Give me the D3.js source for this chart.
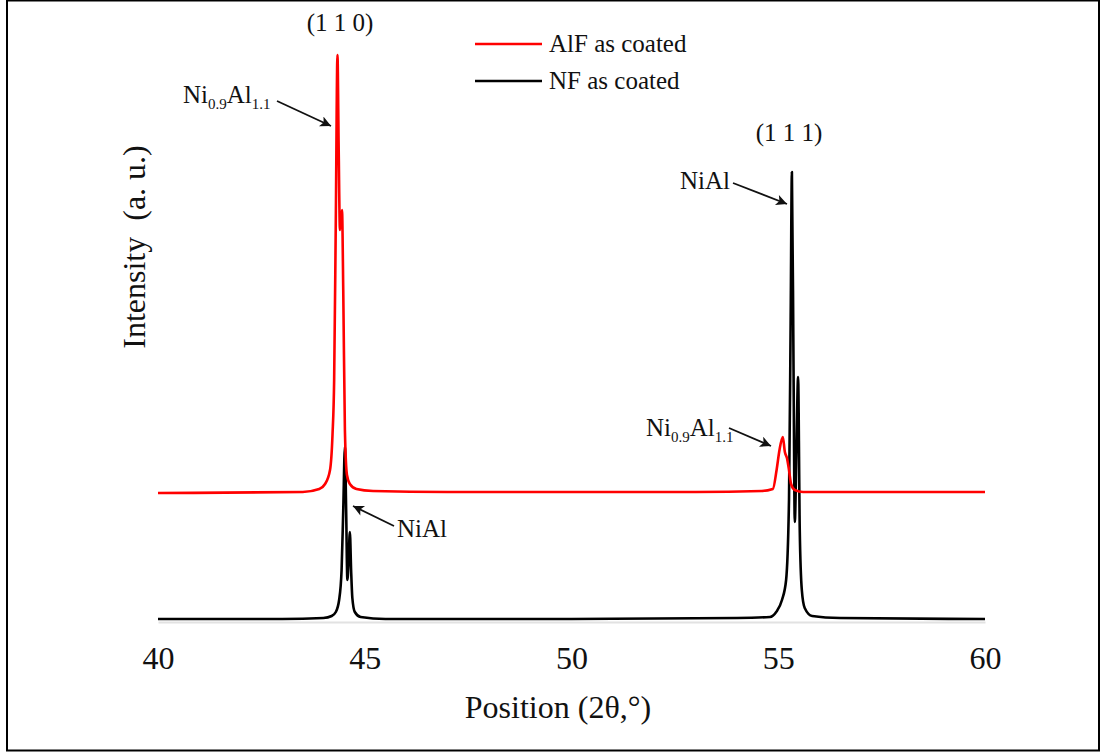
<!DOCTYPE html>
<html>
<head>
<meta charset="utf-8">
<script src="https://cdn.jsdelivr.net/npm/d3@7"></script>
<style>
  body { margin: 0; background: #fff; }
  svg text { font-family: "Liberation Serif", "Times New Roman", serif; }
</style>
</head>
<body>
<div id="chart"></div>
<script>
// 2theta positions and intensities (a.u.)
var alfTheta = [40, 43.5, 43.9, 44.04, 44.16, 44.22, 44.26, 44.30, 44.34, 44.37, 44.40, 44.45, 44.48, 44.52, 44.57, 44.64, 44.8, 45.2, 47, 50, 53, 54.6, 54.87, 54.96, 55.03, 55.11, 55.16, 55.21, 55.26, 55.31, 55.4, 55.6, 56, 58, 60];
var alfIntensity = [127, 128, 131, 136, 150, 185, 240, 400, 565, 470, 390, 410, 330, 190, 145, 136, 131, 129, 128, 128, 128, 129, 131, 150, 170, 183, 168, 162, 150, 136, 130, 128, 128, 128, 128];

var nfTheta = [40, 43, 44.0, 44.2, 44.3, 44.38, 44.44, 44.48, 44.52, 44.55, 44.58, 44.61, 44.64, 44.67, 44.70, 44.76, 44.9, 45.5, 50, 54, 54.8, 54.95, 55.09, 55.19, 55.26, 55.30, 55.33, 55.37, 55.40, 55.44, 55.48, 55.52, 55.57, 55.64, 55.82, 56.5, 60];
var nfIntensity = [1, 1, 2, 4, 8, 20, 50, 110, 173, 110, 40, 60, 88, 50, 22, 8, 3, 1, 1, 2, 3, 8, 20, 40, 120, 300, 448, 250, 98, 170, 243, 90, 30, 12, 4, 2, 1];

var xTicks = [40, 45, 50, 55, 60];
var seriesNames = ["AlF as coated", "NF as coated"];
var seriesColors = ["#ff0000", "#000000"];

var width = 1103, height = 753;
var serif = "'Liberation Serif', 'Times New Roman', serif";

var svg = d3.select("#chart").append("svg")
  .attr("width", width)
  .attr("height", height);

// frame around the figure
svg.append("rect")
  .attr("x", 7)
  .attr("y", 0.5)
  .attr("width", 1092)
  .attr("height", 750)
  .style("fill", "none")
  .style("stroke", "#000")
  .style("stroke-width", 2);

var x = d3.scaleLinear()
  .domain([40, 60])
  .range([158, 985]);

var y = d3.scaleLinear()
  .domain([0, 600])
  .range([620, 20]);

var xAxis = d3.axisBottom(x).tickValues(xTicks).tickSize(0).tickPadding(24);

var gx = svg.append("g")
  .attr("class", "x axis")
  .attr("transform", "translate(0,622)")
  .call(xAxis)
  .attr("font-family", null)
  .attr("font-size", null);

gx.select(".domain").style("stroke", "#e2e2e2").style("stroke-width", 2);
gx.selectAll("text")
  .style("font-size", "32px")
  .style("fill", "#111");

svg.append("text")
  .attr("x", 558)
  .attr("y", 718)
  .attr("text-anchor", "middle")
  .style("font-size", "32px")
  .style("fill", "#111")
  .text("Position (2\u03B8,\u00B0)");

svg.append("text")
  .attr("transform", "translate(145,247) rotate(-90)")
  .attr("text-anchor", "middle")
  .style("font-size", "32px")
  .style("fill", "#111")
  .style("white-space", "pre")
  .text("Intensity  (a. u.)");

var line = d3.line()
  .x(d => x(d[0]))
  .y(d => y(d[1]))
  .curve(d3.curveMonotoneX);

var alfData = alfTheta.map((t, i) => [t, alfIntensity[i]]);
var nfData = nfTheta.map((t, i) => [t, nfIntensity[i]]);

svg.append("path")
  .datum(nfData)
  .attr("d", line)
  .style("fill", "none")
  .style("stroke", seriesColors[1])
  .style("stroke-width", 2.6)
  .style("stroke-linejoin", "round");

svg.append("path")
  .datum(alfData)
  .attr("d", line)
  .style("fill", "none")
  .style("stroke", seriesColors[0])
  .style("stroke-width", 2.6)
  .style("stroke-linejoin", "round");

// legend
var legend = svg.append("g").attr("class", "legend");
seriesNames.forEach((name, i) => {
  var ly = 44 + i * 37;
  legend.append("line")
    .attr("x1", 475).attr("x2", 542)
    .attr("y1", ly).attr("y2", ly)
    .style("stroke", seriesColors[i])
    .style("stroke-width", 2.5);
  legend.append("text")
    .attr("x", 549)
    .attr("y", ly + 8)
    .style("font-size", "25px")
    .style("fill", "#111")
    .text(name);
});

// arrow head
svg.append("defs").append("marker")
  .attr("id", "arrow")
  .attr("viewBox", "0 0 10 10")
  .attr("refX", 10)
  .attr("refY", 5)
  .attr("markerWidth", 7)
  .attr("markerHeight", 6)
  .attr("orient", "auto")
  .attr("markerUnits", "strokeWidth")
  .append("path")
  .attr("d", "M0,0 L10,5 L0,10 L2.5,5 Z")
  .style("fill", "#111");

function arrow(x1, y1, x2, y2) {
  svg.append("line")
    .attr("x1", x1).attr("y1", y1)
    .attr("x2", x2).attr("y2", y2)
    .style("stroke", "#111")
    .style("stroke-width", 1.8)
    .attr("marker-end", "url(#arrow)");
}

function phaseLabel(px, py, sub) {
  var t = svg.append("text")
    .attr("x", px)
    .attr("y", py)
    .style("font-size", "25px")
    .style("fill", "#111");
  if (sub) {
    t.append("tspan").text("Ni");
    t.append("tspan").attr("dy", 6).style("font-size", "15px").text("0.9");
    t.append("tspan").attr("dy", -6).text("Al");
    t.append("tspan").attr("dy", 6).style("font-size", "15px").text("1.1");
  } else {
    t.text("NiAl");
  }
}

// peak annotations
svg.append("text")
  .attr("x", 340).attr("y", 31)
  .attr("text-anchor", "middle")
  .style("font-size", "25px")
  .style("fill", "#111")
  .text("(1 1 0)");

svg.append("text")
  .attr("x", 789).attr("y", 141)
  .attr("text-anchor", "middle")
  .style("font-size", "25px")
  .style("fill", "#111")
  .text("(1 1 1)");

phaseLabel(183, 103, true);
arrow(277, 101, 331, 126);

phaseLabel(397, 537, false);
arrow(394, 526, 353, 506);

phaseLabel(680, 189, false);
arrow(733, 183, 787, 204);

phaseLabel(646, 436, true);
arrow(729, 428, 771, 446);

svg.selectAll("text").style("font-family", serif);
</script>
</body>
</html>
